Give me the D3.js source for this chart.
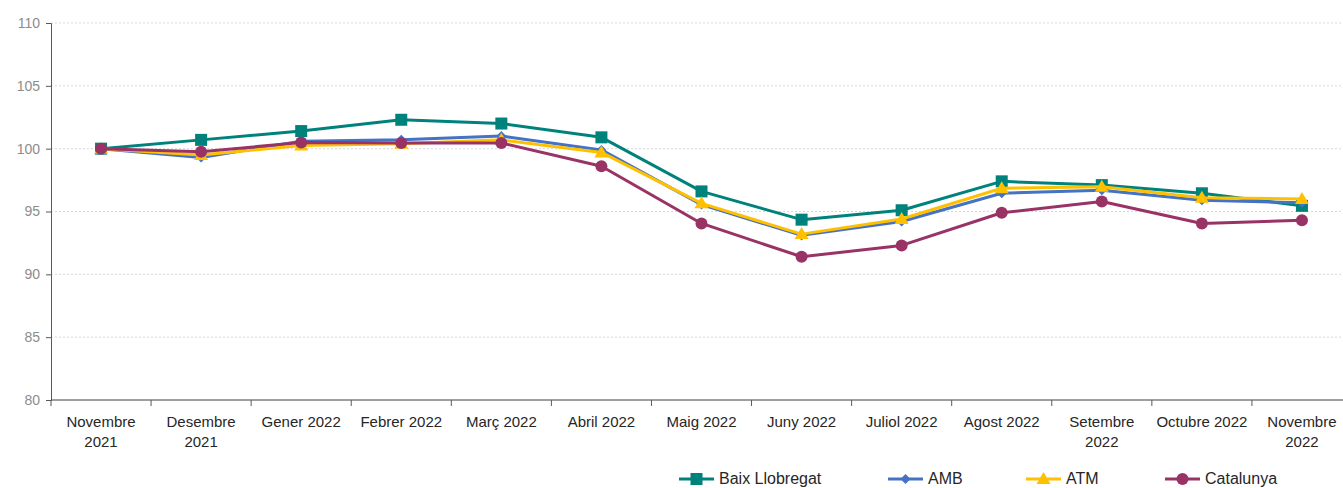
<!DOCTYPE html>
<html><head><meta charset="utf-8">
<script src="https://cdn.jsdelivr.net/npm/d3@7"></script>
<style>body{margin:0;background:#fff;} svg{display:block;}</style>
</head><body>
<svg id="c" width="1343" height="488"></svg>
<script>
const categories = [["Novembre","2021"],["Desembre","2021"],["Gener 2022"],["Febrer 2022"],["Març 2022"],["Abril 2022"],["Maig 2022"],["Juny 2022"],["Juliol 2022"],["Agost 2022"],["Setembre","2022"],["Octubre 2022"],["Novembre","2022"]];
const catKeys = categories.map(c => c.join(" "));
const baixLlobregat = [100.0,100.7,101.4,102.3,102.0,100.9,96.6,94.35,95.1,97.4,97.1,96.45,95.45];
const amb          = [100.0,99.3,100.6,100.7,101.0,99.9,95.55,93.1,94.2,96.45,96.7,95.9,95.7];
const atm          = [100.0,99.5,100.25,100.4,100.7,99.7,95.65,93.2,94.4,96.85,96.97,96.1,96.0];
const catalunya    = [100.0,99.75,100.5,100.45,100.45,98.6,94.05,91.4,92.3,94.9,95.8,94.05,94.3];
const seriesNames = ["Baix Llobregat","AMB","ATM","Catalunya"];
const yTicks = [80,85,90,95,100,105,110];

const series = [
  {name:seriesNames[0], values:baixLlobregat, color:"#00827C", marker:"square"},
  {name:seriesNames[1], values:amb, color:"#4472C4", marker:"diamond"},
  {name:seriesNames[2], values:atm, color:"#FFC000", marker:"triangle"},
  {name:seriesNames[3], values:catalunya, color:"#993366", marker:"circle"}
];

const svg = d3.select("#c");
const x = d3.scaleBand().domain(catKeys).range([51,1352]);
const y = d3.scaleLinear().domain([80,110]).range([400,23]);

// grid
svg.append("g").selectAll("line").data(yTicks.filter(t=>t>80)).join("line")
  .attr("x1",51).attr("x2",1343).attr("y1",d=>y(d)).attr("y2",d=>y(d))
  .attr("stroke","#d9d9d9").attr("stroke-width",1).attr("stroke-dasharray","2,2");

// y axis
const yAxis = svg.append("g").attr("transform","translate(51,0)")
  .call(d3.axisLeft(y).tickValues(yTicks).tickSize(5).tickPadding(6));
yAxis.select(".domain").attr("stroke","#595959");
yAxis.selectAll(".tick line").attr("stroke","#595959");
yAxis.selectAll("text").attr("fill","#8c8c8c").style("font-family","'Liberation Sans',Arial,sans-serif").style("font-size","14px");

// x axis
const xAxis = svg.append("g").attr("transform","translate(0,400)")
  .call(d3.axisBottom(x).tickSize(0).tickFormat(""));
xAxis.select(".domain").attr("stroke","#404040").attr("d","M51,0H1352");
svg.append("g").selectAll("line").data(catKeys).join("line")
  .attr("x1",d=>x(d)).attr("x2",d=>x(d)).attr("y1",400).attr("y2",406)
  .attr("stroke","#595959");
const lbl = svg.append("g").selectAll("text").data(categories).join("text")
  .attr("x",(d,i)=>x(catKeys[i])+x.bandwidth()/2).attr("y",427)
  .attr("text-anchor","middle").attr("fill","#262626")
  .style("font-family","'Liberation Sans Narrow','Liberation Sans',Arial,sans-serif").style("font-size","15px");
lbl.each(function(d){
  const t = d3.select(this);
  d.forEach((s,j)=>t.append("tspan").attr("x",t.attr("x")).attr("dy",j?20:0).text(s));
});

// lines
const line = d3.line().x((d,i)=>x(catKeys[i])+x.bandwidth()/2).y(d=>y(d));
function drawMarker(g, type, cx, cy, color){
  if(type==="square") g.append("rect").attr("x",cx-6).attr("y",cy-6).attr("width",12).attr("height",12).attr("fill",color);
  else if(type==="diamond") g.append("path").attr("d",`M${cx},${cy-5}L${cx+5},${cy}L${cx},${cy+5}L${cx-5},${cy}Z`).attr("fill",color);
  else if(type==="triangle") g.append("path").attr("d",`M${cx},${cy-7}L${cx+7},${cy+5}L${cx-7},${cy+5}Z`).attr("fill",color);
  else g.append("circle").attr("cx",cx).attr("cy",cy).attr("r",6).attr("fill",color);
}
series.forEach(s=>{
  const g = svg.append("g");
  g.append("path").datum(s.values).attr("d",line).attr("fill","none").attr("stroke",s.color).attr("stroke-width",3).attr("stroke-linejoin","round");
  s.values.forEach((v,i)=>drawMarker(g,s.marker,x(catKeys[i])+x.bandwidth()/2,y(v),s.color));
});

// legend
const legX = [679,888,1026,1165];
series.forEach((s,i)=>{
  const g = svg.append("g");
  const ly = 479;
  g.append("line").attr("x1",legX[i]).attr("x2",legX[i]+35).attr("y1",ly).attr("y2",ly).attr("stroke",s.color).attr("stroke-width",3);
  drawMarker(g,s.marker,legX[i]+17.5,ly,s.color);
  g.append("text").attr("x",legX[i]+40).attr("y",ly+5).text(s.name).attr("fill","#262626")
    .style("font-family","'Liberation Sans Narrow','Liberation Sans',Arial,sans-serif").style("font-size","16px");
});
</script>
</body></html>
